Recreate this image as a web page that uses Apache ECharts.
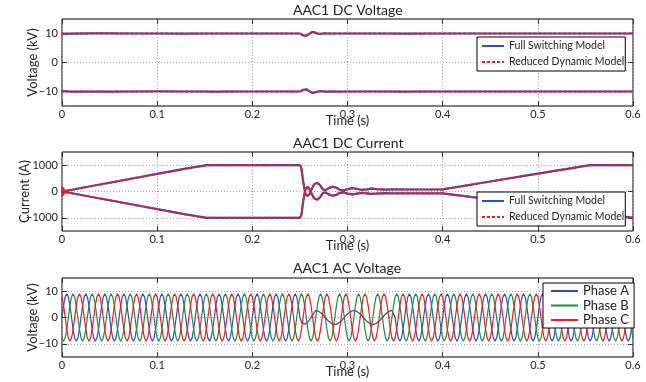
<!DOCTYPE html>
<html>
<head>
<meta charset="utf-8">
<script src="https://cdn.jsdelivr.net/npm/echarts@6/dist/echarts.min.js"></script>
<style>
  html, body { margin: 0; padding: 0; background: #fff; }
  #chart { width: 646px; height: 382px; }
</style>
</head>
<body>
<div id="chart"></div>
<script>
// ---- DC voltage (kV) ----
const vTimeFull = [0, 0.01, 0.03, 0.05, 0.08, 0.1, 0.13, 0.16, 0.2, 0.23,
  0.25, 0.2515, 0.2535, 0.255, 0.257, 0.26, 0.263, 0.266, 0.269, 0.272,
  0.276, 0.28, 0.29, 0.3, 0.33, 0.36, 0.4, 0.45, 0.5, 0.55, 0.6]
const vUpFull = [9.9, 9.95, 10.05, 10.05, 10.0, 10.0, 9.95, 10.0, 10.0, 10.0,
  10.0, 9.95, 9.3, 9.1, 9.3, 9.9, 10.55, 10.3, 9.9, 9.85,
  10.05, 10.0, 10.0, 10.0, 10.0, 9.95, 10.0, 10.0, 10.0, 10.0, 10.0]
const vLoFull = [-9.9, -10.05, -10.0, -10.05, -10.0, -9.95, -10.0, -10.05, -10.0, -10.0,
  -10.0, -10.05, -9.4, -9.1, -9.3, -9.9, -10.5, -10.3, -10.0, -9.9,
  -10.05, -10.0, -10.05, -10.0, -10.0, -10.05, -10.0, -10.0, -10.0, -10.0, -10.0]
const vTimeRed = [0, 0.0005, 0.001, 0.0015, 0.002, 0.003,
  0.01, 0.03, 0.05, 0.08, 0.1, 0.13, 0.16, 0.2, 0.23, 0.25,
  0.2515, 0.2535, 0.255, 0.257, 0.26, 0.263, 0.266, 0.269, 0.272, 0.276,
  0.28, 0.29, 0.3, 0.33, 0.36, 0.4, 0.45, 0.5, 0.55, 0.6]
const vUpRed = [9.5, 10.2, 9.6, 10.1, 9.8, 9.95,
  9.95, 10.05, 10.05, 10.0, 10.0, 9.95, 10.0, 10.0, 10.0, 10.0,
  9.95, 9.3, 9.1, 9.3, 9.9, 10.55, 10.3, 9.9, 9.85, 10.05,
  10.0, 10.0, 10.0, 10.0, 9.95, 10.0, 10.0, 10.0, 10.0, 10.0]
const vLoRed = [-9.5, -10.2, -9.6, -10.1, -9.8, -9.95,
  -10.05, -10.0, -10.05, -10.0, -9.95, -10.0, -10.05, -10.0, -10.0, -10.0,
  -10.05, -9.4, -9.1, -9.3, -9.9, -10.5, -10.3, -10.0, -9.9, -10.05,
  -10.0, -10.05, -10.0, -10.0, -10.05, -10.0, -10.0, -10.0, -10.0, -10.0]

// ---- DC current (A) ----
const cTimeFull = [0, 0.005, 0.03, 0.06, 0.1, 0.13, 0.152, 0.18, 0.22, 0.25,
  0.2515, 0.253, 0.2545, 0.256, 0.258, 0.26, 0.2625, 0.265, 0.268, 0.271,
  0.274, 0.277, 0.28, 0.284, 0.288, 0.292, 0.296, 0.3, 0.305, 0.31,
  0.315, 0.32, 0.325, 0.33, 0.34, 0.35, 0.37, 0.4, 0.45, 0.5,
  0.555, 0.58, 0.6]
const cUpFull = [0, 30, 200, 400, 670, 870, 1000, 1000, 1000, 1000,
  900, 500, 150, -100, -180, -100, 100, 280, 330, 250,
  80, 50, 120, 180, 150, 60, 40, 90, 130, 100,
  60, 80, 110, 90, 70, 80, 75, 80, 380, 680,
  1000, 1000, 1000]
const cLoFull = [0, -30, -200, -400, -670, -870, -1000, -1000, -1000, -1000,
  -900, -500, -150, 100, 180, 100, -100, -260, -310, -230,
  -60, -40, -100, -160, -130, -50, -30, -80, -110, -80,
  -50, -70, -90, -80, -65, -70, -70, -70, -300, -535,
  -790, -900, -1000]
const cTimeRed = [0, 0.0005, 0.001, 0.0015, 0.002, 0.0025, 0.003, 0.004,
  0.005, 0.03, 0.06, 0.1, 0.13, 0.152, 0.18, 0.22, 0.25,
  0.2515, 0.253, 0.2545, 0.256, 0.258, 0.26, 0.2625, 0.265, 0.268, 0.271,
  0.274, 0.277, 0.28, 0.284, 0.288, 0.292, 0.296, 0.3, 0.305, 0.31,
  0.315, 0.32, 0.325, 0.33, 0.34, 0.35, 0.37, 0.4, 0.45, 0.5,
  0.555, 0.58, 0.6]
const cUpRed = [0, 180, -160, 150, -120, 90, -50, 20,
  30, 200, 400, 670, 870, 1000, 1000, 1000, 1000,
  900, 500, 150, -100, -180, -100, 100, 280, 330, 250,
  80, 50, 120, 180, 150, 60, 40, 90, 130, 100,
  60, 80, 110, 90, 70, 80, 75, 80, 380, 680,
  1000, 1000, 1000]
const cLoRed = [0, -180, 160, -150, 120, -90, 50, -20,
  -30, -200, -400, -670, -870, -1000, -1000, -1000, -1000,
  -900, -500, -150, 100, 180, 100, -100, -260, -310, -230,
  -60, -40, -100, -160, -130, -50, -30, -80, -110, -80,
  -50, -70, -90, -80, -65, -70, -70, -70, -300, -535,
  -790, -900, -1000]

// ---- AC voltage (kV), sampled every 1/600 s ----
const acStep = 1 / 600
const phaseA = [
  0, 4.5, 7.8, 9, 7.8, 4.5, 0, -4.5, -7.8, -9, -7.8, -4.5,
  0, 4.5, 7.8, 9, 7.8, 4.5, 0, -4.5, -7.8, -9, -7.8, -4.5,
  0, 4.5, 7.8, 9, 7.8, 4.5, 0, -4.5, -7.8, -9, -7.8, -4.5,
  0, 4.5, 7.8, 9, 7.8, 4.5, 0, -4.5, -7.8, -9, -7.8, -4.5,
  0, 4.5, 7.8, 9, 7.8, 4.5, 0, -4.5, -7.8, -9, -7.8, -4.5,
  0, 4.5, 7.8, 9, 7.8, 4.5, 0, -4.5, -7.8, -9, -7.8, -4.5,
  0, 4.5, 7.8, 9, 7.8, 4.5, 0, -4.5, -7.8, -9, -7.8, -4.5,
  0, 4.5, 7.8, 9, 7.8, 4.5, 0, -4.5, -7.8, -9, -7.8, -4.5,
  0, 4.5, 7.8, 9, 7.8, 4.5, 0, -4.5, -7.8, -9, -7.8, -4.5,
  0, 4.5, 7.8, 9, 7.8, 4.5, 0, -4.5, -7.8, -9, -7.8, -4.5,
  0, 4.5, 7.8, 9, 7.8, 4.5, 0, -4.5, -7.8, -9, -7.8, -4.5,
  0, 4.5, 7.8, 9, 7.8, 4.5, 0, -4.5, -7.8, -9, -7.8, -4.5,
  0, 4.5, 7.8, 9, 7.8, 4.5,
  0, -1.8, -2.5, -2.6, -2.3, -1.7, -0.9, 0, 0.9, 1.8,
  2.7, 2.6, 2.3, 1.9, 1.35, 0.7, 0, -0.7, -1.35, -1.9, -2.3, -2.6,
  -2.7, -2.6, -2.3, -1.9, -1.35, -0.7, 0, 0.7, 1.35, 1.9, 2.3, 2.6,
  2.7, 2.6, 2.3, 1.9, 1.35, 0.7, 0, -0.7, -1.35, -1.9, -2.3, -2.6,
  -2.7, -2.6, -2.3, -1.9, -1.35, -0.7, 0, 0.7, 1.35, 1.9, 2.3, 2.6,
  2.7, 2,
  0, -4.5, -7.8, -9, -7.8, -4.5,
  0, 4.5, 7.8, 9, 7.8, 4.5, 0, -4.5, -7.8, -9, -7.8, -4.5,
  0, 4.5, 7.8, 9, 7.8, 4.5, 0, -4.5, -7.8, -9, -7.8, -4.5,
  0, 4.5, 7.8, 9, 7.8, 4.5, 0, -4.5, -7.8, -9, -7.8, -4.5,
  0, 4.5, 7.8, 9, 7.8, 4.5, 0, -4.5, -7.8, -9, -7.8, -4.5,
  0, 4.5, 7.8, 9, 7.8, 4.5, 0, -4.5, -7.8, -9, -7.8, -4.5,
  0, 4.5, 7.8, 9, 7.8, 4.5, 0, -4.5, -7.8, -9, -7.8, -4.5,
  0, 4.5, 7.8, 9, 7.8, 4.5, 0, -4.5, -7.8, -9, -7.8, -4.5,
  0, 4.5, 7.8, 9, 7.8, 4.5, 0, -4.5, -7.8, -9, -7.8, -4.5,
  0, 4.5, 7.8, 9, 7.8, 4.5, 0, -4.5, -7.8, -9, -7.8, -4.5,
  0, 4.5, 7.8, 9, 7.8, 4.5, 0, -4.5, -7.8, -9, -7.8, -4.5,
  0, 4.5, 7.8, 9, 7.8, 4.5, 0, -4.5, -7.8, -9, -7.8, -4.5,
  0, 4.5, 7.8, 9, 7.8, 4.5, 0, -4.5, -7.8, -9, -7.8, -4.5,
  0
]
const phaseB = [
  -7.8, -9, -7.8, -4.5, 0, 4.5, 7.8, 9, 7.8, 4.5, 0, -4.5,
  -7.8, -9, -7.8, -4.5, 0, 4.5, 7.8, 9, 7.8, 4.5, 0, -4.5,
  -7.8, -9, -7.8, -4.5, 0, 4.5, 7.8, 9, 7.8, 4.5, 0, -4.5,
  -7.8, -9, -7.8, -4.5, 0, 4.5, 7.8, 9, 7.8, 4.5, 0, -4.5,
  -7.8, -9, -7.8, -4.5, 0, 4.5, 7.8, 9, 7.8, 4.5, 0, -4.5,
  -7.8, -9, -7.8, -4.5, 0, 4.5, 7.8, 9, 7.8, 4.5, 0, -4.5,
  -7.8, -9, -7.8, -4.5, 0, 4.5, 7.8, 9, 7.8, 4.5, 0, -4.5,
  -7.8, -9, -7.8, -4.5, 0, 4.5, 7.8, 9, 7.8, 4.5, 0, -4.5,
  -7.8, -9, -7.8, -4.5, 0, 4.5, 7.8, 9, 7.8, 4.5, 0, -4.5,
  -7.8, -9, -7.8, -4.5, 0, 4.5, 7.8, 9, 7.8, 4.5, 0, -4.5,
  -7.8, -9, -7.8, -4.5, 0, 4.5, 7.8, 9, 7.8, 4.5, 0, -4.5,
  -7.8, -9, -7.8, -4.5, 0, 4.5, 7.8, 9, 7.8, 4.5, 0, -4.5,
  -7.8, -9, -7.8, -4.5, 0, 4.5, 7.8, 9, 7.8, 4.5, 0, -4.5,
  -7.8, -9, -7.8, -4.5, 0, 4.5, 7.8, 9, 7.8, 4.5, 0, -4.5,
  -7.8, -9, -7.8, -4.5, 0, 4.5, 7.8, 9, 7.8, 4.5, 0, -4.5,
  -7.8, -9, -7.8, -4.5, 0, 4.5, 7.8, 9, 7.8, 4.5, 0, -4.5,
  -7.8, -9, -7.8, -4.5, 0, 4.5, 7.8, 9, 7.8, 4.5, 0, -4.5,
  -7.8, -9, -7.8, -4.5, 0, 4.5, 7.8, 9, 7.8, 4.5, 0, -4.5,
  -7.8, -9, -7.8, -4.5, 0, 4.5, 7.8, 9, 7.8, 4.5, 0, -4.5,
  -7.8, -9, -7.8, -4.5, 0, 4.5, 7.8, 9, 7.8, 4.5, 0, -4.5,
  -7.8, -9, -7.8, -4.5, 0, 4.5, 7.8, 9, 7.8, 4.5, 0, -4.5,
  -7.8, -9, -7.8, -4.5, 0, 4.5, 7.8, 9, 7.8, 4.5, 0, -4.5,
  -7.8, -9, -7.8, -4.5, 0, 4.5, 7.8, 9, 7.8, 4.5, 0, -4.5,
  -7.8, -9, -7.8, -4.5, 0, 4.5, 7.8, 9, 7.8, 4.5, 0, -4.5,
  -7.8, -9, -7.8, -4.5, 0, 4.5, 7.8, 9, 7.8, 4.5, 0, -4.5,
  -7.8, -9, -7.8, -4.5, 0, 4.5, 7.8, 9, 7.8, 4.5, 0, -4.5,
  -7.8, -9, -7.8, -4.5, 0, 4.5, 7.8, 9, 7.8, 4.5, 0, -4.5,
  -7.8, -9, -7.8, -4.5, 0, 4.5, 7.8, 9, 7.8, 4.5, 0, -4.5,
  -7.8, -9, -7.8, -4.5, 0, 4.5, 7.8, 9, 7.8, 4.5, 0, -4.5,
  -7.8, -9, -7.8, -4.5, 0, 4.5, 7.8, 9, 7.8, 4.5, 0, -4.5,
  -7.8
]
const phaseC = [
  7.8, 4.5, 0, -4.5, -7.8, -9, -7.8, -4.5, 0, 4.5, 7.8, 9,
  7.8, 4.5, 0, -4.5, -7.8, -9, -7.8, -4.5, 0, 4.5, 7.8, 9,
  7.8, 4.5, 0, -4.5, -7.8, -9, -7.8, -4.5, 0, 4.5, 7.8, 9,
  7.8, 4.5, 0, -4.5, -7.8, -9, -7.8, -4.5, 0, 4.5, 7.8, 9,
  7.8, 4.5, 0, -4.5, -7.8, -9, -7.8, -4.5, 0, 4.5, 7.8, 9,
  7.8, 4.5, 0, -4.5, -7.8, -9, -7.8, -4.5, 0, 4.5, 7.8, 9,
  7.8, 4.5, 0, -4.5, -7.8, -9, -7.8, -4.5, 0, 4.5, 7.8, 9,
  7.8, 4.5, 0, -4.5, -7.8, -9, -7.8, -4.5, 0, 4.5, 7.8, 9,
  7.8, 4.5, 0, -4.5, -7.8, -9, -7.8, -4.5, 0, 4.5, 7.8, 9,
  7.8, 4.5, 0, -4.5, -7.8, -9, -7.8, -4.5, 0, 4.5, 7.8, 9,
  7.8, 4.5, 0, -4.5, -7.8, -9, -7.8, -4.5, 0, 4.5, 7.8, 9,
  7.8, 4.5, 0, -4.5, -7.8, -9, -7.8, -4.5, 0, 4.5, 7.8, 9,
  7.8, 4.5, 0, -4.5, -7.8, -9, -7.8, -4.5, 0, 4.5, 7.8, 9,
  7.8, 4.5, 0, -4.5, -7.8, -9, -7.8, -4.5, 0, 4.5, 7.8, 9,
  7.8, 4.5, 0, -4.5, -7.8, -9, -7.8, -4.5, 0, 4.5, 7.8, 9,
  7.8, 4.5, 0, -4.5, -7.8, -9, -7.8, -4.5, 0, 4.5, 7.8, 9,
  7.8, 4.5, 0, -4.5, -7.8, -9, -7.8, -4.5, 0, 4.5, 7.8, 9,
  7.8, 4.5, 0, -4.5, -7.8, -9, -7.8, -4.5, 0, 4.5, 7.8, 9,
  7.8, 4.5, 0, -4.5, -7.8, -9, -7.8, -4.5, 0, 4.5, 7.8, 9,
  7.8, 4.5, 0, -4.5, -7.8, -9, -7.8, -4.5, 0, 4.5, 7.8, 9,
  7.8, 4.5, 0, -4.5, -7.8, -9, -7.8, -4.5, 0, 4.5, 7.8, 9,
  7.8, 4.5, 0, -4.5, -7.8, -9, -7.8, -4.5, 0, 4.5, 7.8, 9,
  7.8, 4.5, 0, -4.5, -7.8, -9, -7.8, -4.5, 0, 4.5, 7.8, 9,
  7.8, 4.5, 0, -4.5, -7.8, -9, -7.8, -4.5, 0, 4.5, 7.8, 9,
  7.8, 4.5, 0, -4.5, -7.8, -9, -7.8, -4.5, 0, 4.5, 7.8, 9,
  7.8, 4.5, 0, -4.5, -7.8, -9, -7.8, -4.5, 0, 4.5, 7.8, 9,
  7.8, 4.5, 0, -4.5, -7.8, -9, -7.8, -4.5, 0, 4.5, 7.8, 9,
  7.8, 4.5, 0, -4.5, -7.8, -9, -7.8, -4.5, 0, 4.5, 7.8, 9,
  7.8, 4.5, 0, -4.5, -7.8, -9, -7.8, -4.5, 0, 4.5, 7.8, 9,
  7.8, 4.5, 0, -4.5, -7.8, -9, -7.8, -4.5, 0, 4.5, 7.8, 9,
  7.8
]

const titles = ['AAC1 DC Voltage', 'AAC1 DC Current', 'AAC1 AC Voltage']
const yNames = ['Voltage (kV)', 'Current (A)', 'Voltage (kV)']
const yRanges = [[-15, 15], [-1500, 1500], [-15, 15]]
const yTickValues = [[-10, 0, 10], [-1000, 0, 1000], [-10, 0, 10]]
const modelNames = ['Full Switching Model', 'Reduced Dynamic Model']
const phaseNames = ['Phase A', 'Phase B', 'Phase C']

const FONT = 'Lato'
const TXT = '#222'
const BLUE = '#2c4fb3'
const RED = '#ee1c24'
const GREEN = '#1e8c3c'

const grids = [
  { left: 62, top: 19, width: 571, height: 87 },
  { left: 62, top: 152, width: 571, height: 79 },
  { left: 62, top: 278, width: 571, height: 79 },
].map(g => ({ ...g, show: true, borderColor: '#000', borderWidth: 1 }))
const yNameGaps = [22.5, 30.5, 22.5]

const minus = v => String(v).replace('-', '\u2212')
const noLine = { show: false, onZero: false }
const dotted = { show: true, lineStyle: { color: '#aaa', type: [1, 2], width: 1 } }

const xAxes = []
const yAxes = []
grids.forEach((g, i) => {
  const tick = { show: true, inside: true, length: 5, lineStyle: { color: '#333' } }
  xAxes.push({
    type: 'value', gridIndex: i, min: 0, max: 0.6, interval: 0.1,
    name: 'Time (s)', nameLocation: 'middle', nameGap: 8, nameMoveOverlap: false,
    nameTextStyle: { fontFamily: FONT, fontSize: 13, color: TXT },
    axisLine: noLine, axisTick: tick,
    axisLabel: { fontFamily: FONT, fontSize: 11, color: TXT, margin: 3,
      formatter: v => v === 0 ? '0' : v.toFixed(1) },
    splitLine: dotted,
  })
  xAxes.push({
    type: 'value', gridIndex: i, position: 'top', min: 0, max: 0.6, interval: 0.1,
    axisLine: noLine, axisTick: tick,
    axisLabel: { show: false }, splitLine: { show: false },
  })
  yAxes.push({
    type: 'value', gridIndex: i, min: yRanges[i][0], max: yRanges[i][1],
    name: yNames[i], nameLocation: 'middle', nameGap: yNameGaps[i], nameMoveOverlap: false,
    nameTextStyle: { fontFamily: FONT, fontSize: 13, color: TXT },
    axisLine: noLine,
    axisTick: { ...tick, customValues: yTickValues[i] },
    axisLabel: { fontFamily: FONT, fontSize: 11, color: TXT, margin: 4,
      customValues: yTickValues[i], formatter: minus },
    splitLine: dotted,
  })
  yAxes.push({
    type: 'value', gridIndex: i, position: 'right', min: yRanges[i][0], max: yRanges[i][1],
    axisLine: noLine,
    axisTick: { ...tick, customValues: yTickValues[i] },
    axisLabel: { show: false }, splitLine: { show: false },
  })
})

const pairs = (ts, vs) => ts.map((t, k) => [t, vs[k]])
const acPairs = vs => vs.map((v, k) => [k * acStep, v])

function line(name, grid, data, color, width, dash) {
  return {
    type: 'line', name, xAxisIndex: grid * 2, yAxisIndex: grid * 2,
    data, symbol: 'none', showSymbol: false, animation: false,
    lineStyle: { color, width, type: dash || 'solid' },
    itemStyle: { color },
  }
}

const series = [
  line(modelNames[0], 0, pairs(vTimeFull, vUpFull), BLUE, 2.2),
  line(modelNames[0], 0, pairs(vTimeFull, vLoFull), BLUE, 2.2),
  line(modelNames[1], 0, pairs(vTimeRed, vUpRed), RED, 2, [3, 2]),
  line(modelNames[1], 0, pairs(vTimeRed, vLoRed), RED, 2, [3, 2]),
  line(modelNames[0], 1, pairs(cTimeFull, cUpFull), BLUE, 2.2),
  line(modelNames[0], 1, pairs(cTimeFull, cLoFull), BLUE, 2.2),
  line(modelNames[1], 1, pairs(cTimeRed, cUpRed), RED, 2, [3, 2]),
  line(modelNames[1], 1, pairs(cTimeRed, cLoRed), RED, 2, [3, 2]),
  line(phaseNames[0], 2, acPairs(phaseA), BLUE, 1.2),
  line(phaseNames[1], 2, acPairs(phaseB), GREEN, 1.2),
  line(phaseNames[2], 2, acPairs(phaseC), RED, 1.2),
]

const legendBase = {
  orient: 'vertical', backgroundColor: '#fff', borderColor: '#000', borderWidth: 1,
  borderRadius: 0, selectedMode: false, itemWidth: 22, itemHeight: 10,
  itemStyle: { opacity: 0 },
  textStyle: { fontFamily: FONT, fontSize: 10.5, color: TXT, lineHeight: 14 },
}

const option = {
  backgroundColor: '#fff',
  animation: false,
  title: titles.map((t, i) => ({
    text: t, left: 293, top: [3, 136, 261][i], padding: 0,
    textStyle: { fontFamily: FONT, fontSize: 14, fontWeight: 'normal', color: TXT },
  })),
  grid: grids,
  xAxis: xAxes,
  yAxis: yAxes,
  legend: [
    { ...legendBase, data: modelNames, left: 477, top: 37, padding: [2, 1, 2, 4], itemGap: 2 },
    { ...legendBase, data: modelNames, left: 477, top: 192, padding: [2, 1, 2, 4], itemGap: 2 },
    { ...legendBase, data: phaseNames, left: 543, top: 283, padding: [1, 5, 1, 7], itemGap: 0.5,
      itemWidth: 27, textStyle: { ...legendBase.textStyle, fontSize: 13, lineHeight: 14 } },
  ],
  series,
}

const chart = echarts.init(document.getElementById('chart'))
chart.setOption(option)
</script>
</body>
</html>
